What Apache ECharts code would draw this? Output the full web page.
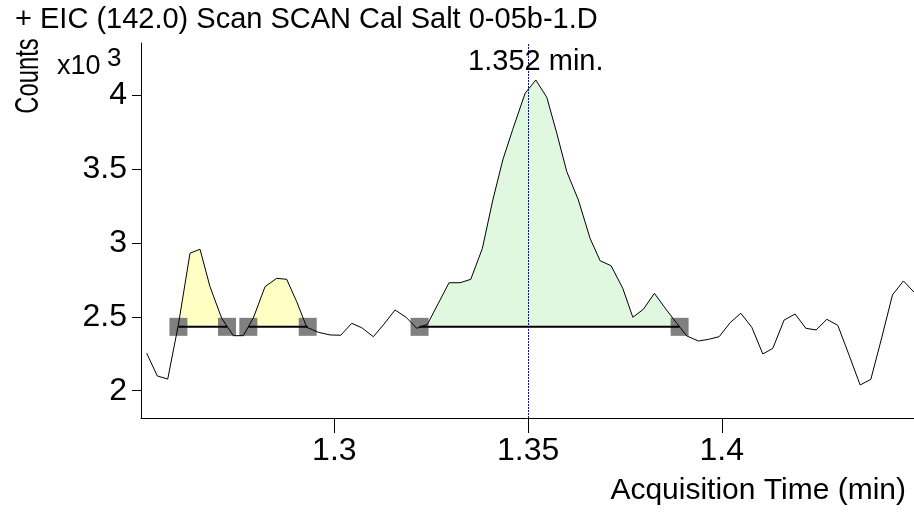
<!DOCTYPE html>
<html><head><meta charset="utf-8">
<script src="https://cdn.jsdelivr.net/npm/echarts@6/dist/echarts.min.js"></script>
<style>html,body{margin:0;padding:0;background:#fff}#c{width:914px;height:512px}</style>
</head><body><div id="c"></div>
<script>
// ---- data ----
const times = [1.25157,1.25431,1.25700,1.25978,1.26275,1.26533,1.26791,1.27093,1.27393,1.27651,
1.27909,1.28211,1.28513,1.28771,1.29029,1.29288,1.29587,1.29889,1.30165,1.30449,
1.30707,1.31007,1.31283,1.31567,1.31851,1.32127,1.32401,1.32685,1.32961,1.33245,
1.33521,1.33820,1.34084,1.34347,1.34605,1.34923,1.35199,1.35483,1.35741,1.35999,
1.36298,1.36600,1.36859,1.37143,1.37444,1.37703,1.37976,1.38260,1.38554,1.38838,
1.39097,1.39396,1.39654,1.39930,1.40214,1.40490,1.40774,1.41058,1.41316,1.41608,
1.41892,1.42168,1.42434,1.42710,1.42994,1.43286,1.43570,1.43846,1.44130,1.44404,
1.44688,1.44964];
const counts = [2.254,2.100,2.079,2.452,2.932,2.959,2.705,2.491,2.373,2.373,
2.493,2.705,2.762,2.755,2.603,2.430,2.396,2.378,2.376,2.457,
2.427,2.366,2.452,2.547,2.498,2.423,2.450,2.593,2.732,2.732,
2.755,2.965,3.286,3.564,3.772,4.016,4.106,3.989,3.745,3.485,
3.293,3.033,2.881,2.847,2.694,2.498,2.552,2.660,2.554,2.457,
2.371,2.337,2.348,2.366,2.461,2.525,2.430,2.249,2.287,2.479,
2.520,2.423,2.412,2.484,2.443,2.240,2.039,2.077,2.362,2.649,
2.744,2.667]; // x10^3
const baselineLevel = 2.433;
const peakStarts = [1.25976, 1.27780, 1.32199];
const peakEnds = [1.27230, 1.29313, 1.38911];
const apexTime = 1.352;
const apexLabel = '1.352 min.';
const expectedTime = 1.35;
const xTicks = [1.3, 1.35, 1.4];
const yTicks = [2, 2.5, 3, 3.5, 4];
const titleText = '+ EIC (142.0) Scan SCAN Cal Salt 0-05b-1.D';
const xName = 'Acquisition Time (min)';
const yName = 'Counts';

// ---- chart ----
const FF = '"Liberation Sans", Arial, sans-serif';
const fillColors = ['#ffffc4', '#ffffc4', '#e0f8e0'];
const chart = echarts.init(document.getElementById('c'), null, {renderer: 'canvas'});
const apexValue = Math.max(...counts);
const bounds = [];
peakStarts.forEach((s, i) => { bounds.push([s, baselineLevel]); bounds.push([peakEnds[i], baselineLevel]); });

const series = [
  {
    type: 'custom', z: 1, silent: true, clip: true,
    data: peakStarts.map((s, i) => [s, baselineLevel, peakEnds[i]]),
    encode: {x: [0, 2], y: 1},
    renderItem(params, api) {
      const i = params.dataIndex;
      const s = peakStarts[i], e = peakEnds[i];
      const pts = [api.coord([s, baselineLevel])];
      times.forEach((t, k) => { if (t > s && t < e) pts.push(api.coord([t, counts[k]])); });
      pts.push(api.coord([e, baselineLevel]));
      return {type: 'polygon', shape: {points: pts}, style: {fill: fillColors[i], stroke: null}};
    }
  },
  {
    type: 'scatter', z: 2, silent: true, symbol: 'rect', symbolSize: 18,
    itemStyle: {color: '#808080', opacity: 1},
    data: bounds
  },
  ...peakStarts.map((s, i) => ({
    type: 'line', z: 3, silent: true, showSymbol: false, symbol: 'none',
    lineStyle: {color: '#000', width: 2},
    data: [[s, baselineLevel], [peakEnds[i], baselineLevel]]
  })),
  {
    type: 'line', z: 4, silent: true, showSymbol: false, symbol: 'none',
    lineStyle: {color: '#000', width: 1},
    data: times.map((t, i) => [t, counts[i]]),
    markLine: {
      silent: true, symbol: ['none', 'none'], label: {show: false},
      lineStyle: {color: '#0000ff', type: [2, 1], width: 1, opacity: 1},
      emphasis: {disabled: true},
      data: [{xAxis: expectedTime}]
    },
    markPoint: {
      silent: true, symbol: 'circle', symbolSize: 0,
      label: {show: true, position: 'top', distance: 4, formatter: apexLabel,
        color: '#000', fontSize: 29, fontFamily: FF},
      data: [{coord: [apexTime, apexValue]}]
    }
  }
];

chart.setOption({
  animation: false,
  backgroundColor: '#fff',
  grid: {left: 141, right: 0, top: 43, bottom: 94, containLabel: false, outerBoundsMode: 'none'},
  xAxis: {
    type: 'value', min: 1.2501, max: 1.4496,
    axisLine: {show: true, onZero: false, lineStyle: {color: '#000', width: 1}},
    axisTick: {show: true, customValues: xTicks, length: 15, lineStyle: {color: '#000'}},
    axisLabel: {show: true, customValues: xTicks, margin: 17, fontSize: 32, color: '#000', fontFamily: FF,
      formatter: v => String(+v.toFixed(3))},
    splitLine: {show: false}
  },
  yAxis: {
    type: 'value', min: 1.815, max: 4.357,
    axisLine: {show: true, onZero: false, lineStyle: {color: '#000', width: 1}},
    axisTick: {show: true, customValues: yTicks, length: 9, lineStyle: {color: '#000'}},
    axisLabel: {show: true, customValues: yTicks, margin: 14, fontSize: 32, color: '#000', fontFamily: FF,
      formatter: v => String(+v.toFixed(3))},
    splitLine: {show: false}
  },
  graphic: [
    {type: 'text', left: 15, top: 5, silent: true,
      style: {text: titleText, fontSize: 29, fontFamily: FF, fill: '#000'}},
    {type: 'text', x: 29, y: 76, rotation: Math.PI / 2, scaleX: 0.82, scaleY: 1.15, silent: true,
      style: {text: yName, fontSize: 29, fontFamily: FF, fill: '#000', align: 'center', verticalAlign: 'middle'}},
    {type: 'text', x: 57, y: 67, silent: true,
      style: {text: 'x10', fontSize: 27, fontFamily: FF, fill: '#000', align: 'left', verticalAlign: 'middle'}},
    {type: 'text', x: 107, y: 59, silent: true,
      style: {text: '3', fontSize: 26, fontFamily: FF, fill: '#000', align: 'left', verticalAlign: 'middle'}},
    {type: 'text', right: 8, top: 476, silent: true,
      style: {text: xName, fontSize: 30, fontFamily: FF, fill: '#000'}}
  ],
  series
});
</script></body></html>
